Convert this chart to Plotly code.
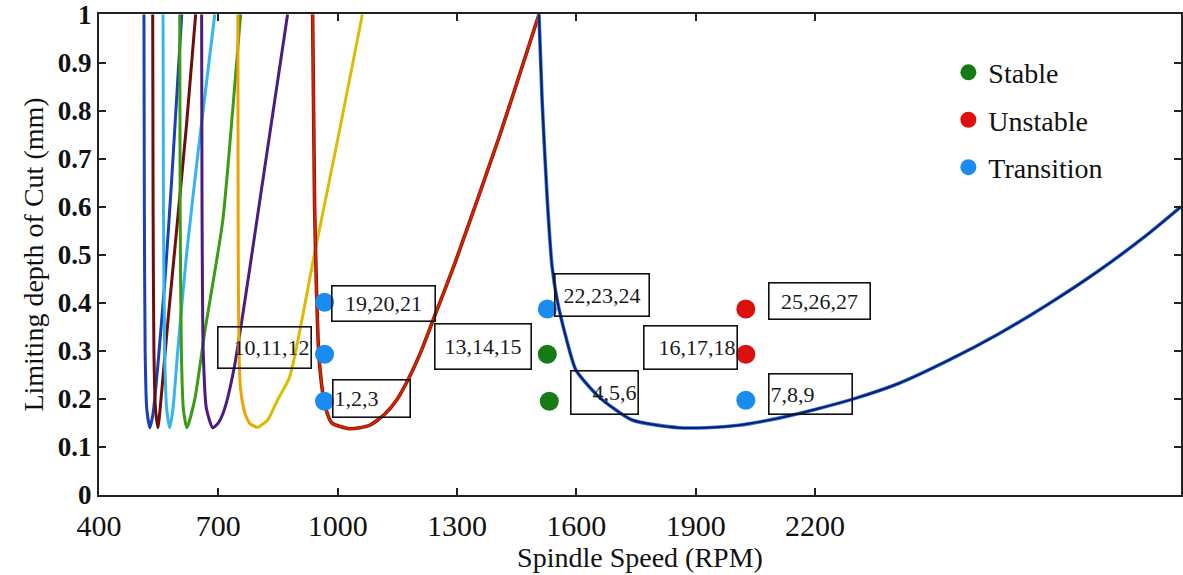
import plotly.graph_objects as go

# Stability lobes: spindle speed (RPM) vs limiting depth of cut (mm)
lobe_a_rpm = [513, 514, 516, 520, 528, 536, 548, 566, 583, 608]
lobe_a_depth = [1.0, 0.6, 0.3, 0.18, 0.14, 0.17, 0.27, 0.45, 0.66, 1.0]

lobe_b_rpm = [535, 536, 538, 542, 548, 556, 573, 595, 620, 643]
lobe_b_depth = [1.0, 0.6, 0.3, 0.18, 0.14, 0.2, 0.36, 0.55, 0.77, 1.0]

lobe_c_rpm = [561, 562, 565, 570, 578, 586, 598, 620, 650, 691]
lobe_c_depth = [1.0, 0.6, 0.3, 0.18, 0.14, 0.18, 0.3, 0.5, 0.72, 1.0]

lobe_d_rpm = [603, 604, 607, 612, 621, 641, 666, 711, 736, 756]
lobe_d_depth = [1.0, 0.6, 0.3, 0.18, 0.14, 0.2, 0.34, 0.57, 0.8, 1.0]

lobe_e_rpm = [658, 659, 662, 670, 686, 700, 716, 741, 811, 874]
lobe_e_depth = [1.0, 0.6, 0.3, 0.18, 0.14, 0.15, 0.18, 0.27, 0.65, 1.0]

lobe_f_rpm = [749, 750, 752, 756, 767, 780, 799, 824, 849, 879, 942, 1005, 1062]
lobe_f_depth = [1.0, 0.5, 0.3, 0.22, 0.17, 0.148, 0.14, 0.156, 0.198, 0.245, 0.503, 0.76, 1.0]

lobe_g_rpm = [937, 942, 947, 952, 957, 962, 970, 985, 1030, 1080, 1118, 1150, 1180, 1210, 1238,
              1298, 1406, 1506]
lobe_g_depth = [1.0, 0.6, 0.42, 0.3, 0.25, 0.215, 0.18, 0.15, 0.138, 0.145, 0.168, 0.2, 0.245,
                0.3, 0.36, 0.49, 0.745, 1.0]

lobe_h_rpm = [1506, 1514, 1527, 1539, 1552, 1574, 1599, 1657, 1740, 1858, 1926, 2008, 2109,
              2200, 2297, 2410, 2535, 2661, 2786, 2912, 3037, 3120]
lobe_h_depth = [1.0, 0.82, 0.613, 0.475, 0.405, 0.328, 0.26, 0.204, 0.156, 0.14, 0.14, 0.145, 0.16,
                0.178, 0.2, 0.232, 0.28, 0.335, 0.397, 0.466, 0.543, 0.6]

# Cutting tests
stable_rpm = [1527, 1532]
stable_depth = [0.293, 0.195]
unstable_rpm = [2026, 2026]
unstable_depth = [0.387, 0.293]
transition_rpm = [967, 967, 967, 1527, 2026]
transition_depth = [0.401, 0.293, 0.195, 0.387, 0.197]

# Test-number labels
label_text = ["19,20,21", "10,11,12", "1,2,3", "13,14,15", "22,23,24",
              "4,5,6", "16,17,18", "25,26,27", "7,8,9"]
label_rpm = [1115, 816, 1085, 1366, 1665, 1672, 1888, 2212, 2189]
label_depth = [0.399, 0.306, 0.2, 0.31, 0.416, 0.214, 0.308, 0.403, 0.21]
label_w = [100, 90, 74, 93, 91, 64, 90, 98, 80]
label_h = [32, 38, 34, 42, 39, 40, 40, 33, 37]
label_align = ["center", "right", "left", "center", "center", "right", "right", "center", "left"]

x_ticks = [400, 700, 1000, 1300, 1600, 1900, 2200]
y_ticks = [0, 0.1, 0.2, 0.3, 0.4, 0.5, 0.6, 0.7, 0.8, 0.9, 1]
y_ticktext = ["0", "0.1", "0.2", "0.3", "0.4", "0.5", "0.6", "0.7", "0.8", "0.9", "1"]

SERIF = "Liberation Serif, Times New Roman, serif"

fig = go.Figure()

# Outlined label boxes with a clear fill so the lobe curves stay visible through them
for t, xv, yv, w, h, al in zip(label_text, label_rpm, label_depth, label_w, label_h, label_align):
    fig.add_annotation(x=xv, y=yv, xref="x", yref="y", text=t, showarrow=False,
                       font=dict(family=SERIF, size=22, color="#1a1a1a"),
                       width=w, height=h, align=al, valign="middle",
                       bgcolor="rgba(0,0,0,0)", bordercolor="#111", borderwidth=1.6,
                       borderpad=1)


def lobe(xs, ys, color, width=3, edge=None):
    if edge:
        fig.add_trace(go.Scatter(x=xs, y=ys, mode="lines", showlegend=False, hoverinfo="skip",
                                 line=dict(color=edge, width=width + 1.6, shape="spline", smoothing=0.6)))
    fig.add_trace(go.Scatter(x=xs, y=ys, mode="lines", showlegend=False, hoverinfo="skip",
                             line=dict(color=color, width=width, shape="spline", smoothing=0.6)))


lobe(lobe_a_rpm, lobe_a_depth, "#1b3fb5")
lobe(lobe_b_rpm, lobe_b_depth, "#6e0d0d")
lobe(lobe_c_rpm, lobe_c_depth, "#35b5f0")
lobe(lobe_d_rpm, lobe_d_depth, "#3b9b14")
lobe(lobe_e_rpm, lobe_e_depth, "#4a1d80")
# gold lobe: orange on the descending side, yellow on the rising side
f_min = lobe_f_depth.index(min(lobe_f_depth))
lobe(lobe_f_rpm[:f_min + 1], lobe_f_depth[:f_min + 1], "#eda400")
lobe(lobe_f_rpm[f_min:], lobe_f_depth[f_min:], "#dcbc00")
lobe(lobe_g_rpm, lobe_g_depth, "#e02000", width=2, edge="#7a1a05")
lobe(lobe_h_rpm, lobe_h_depth, "#0b1f6e", width=2, edge="#2f74d8")

marker_size = 19
fig.add_trace(go.Scatter(x=stable_rpm, y=stable_depth, mode="markers", name="Stable",
                         legendgroup="Stable", marker=dict(color="#167a16", size=marker_size)))
fig.add_trace(go.Scatter(x=unstable_rpm, y=unstable_depth, mode="markers", name="Unstable",
                         legendgroup="Unstable", marker=dict(color="#dd1010", size=marker_size)))
fig.add_trace(go.Scatter(x=transition_rpm, y=transition_depth, mode="markers", name="Transition",
                         legendgroup="Transition", marker=dict(color="#1a8cf0", size=marker_size)))

fig.update_layout(
    width=1183, height=575,
    margin=dict(l=99, r=0, t=14, b=80),
    paper_bgcolor="white", plot_bgcolor="white",
    font=dict(family=SERIF, color="#111"),
    legend=dict(x=0.785, y=0.93, xanchor="left", yanchor="top",
                bgcolor="rgba(0,0,0,0)", font=dict(family=SERIF, size=28, color="#111"),
                tracegroupgap=8, itemsizing="trace"),
    showlegend=True,
)

fig.update_xaxes(range=[400, 3120], tickvals=x_ticks, ticktext=[str(v) for v in x_ticks],
                 ticks="inside", ticklen=7, tickcolor="#222", tickwidth=1.5,
                 showline=True, linecolor="#222", linewidth=2, mirror="ticks",
                 showgrid=False, zeroline=False, ticklabelstandoff=3,
                 tickfont=dict(family=SERIF, size=30, color="#111"),
                 title=dict(text="Spindle Speed (RPM)", font=dict(family=SERIF, size=28, color="#111"),
                            standoff=2))
fig.update_yaxes(range=[0, 1.001], tickvals=y_ticks, ticktext=["<b>%s</b>" % s for s in y_ticktext],
                 ticks="inside", ticklen=7, tickcolor="#222", tickwidth=1.5,
                 showline=True, linecolor="#222", linewidth=2, mirror="ticks",
                 showgrid=False, zeroline=False, ticklabeloverflow="allow",
                 tickfont=dict(family=SERIF, size=27, color="#111"),
                 title=dict(text="Limiting depth of Cut (mm)",
                            font=dict(family=SERIF, size=28, color="#111"), standoff=6))

fig.write_html("out.html")
